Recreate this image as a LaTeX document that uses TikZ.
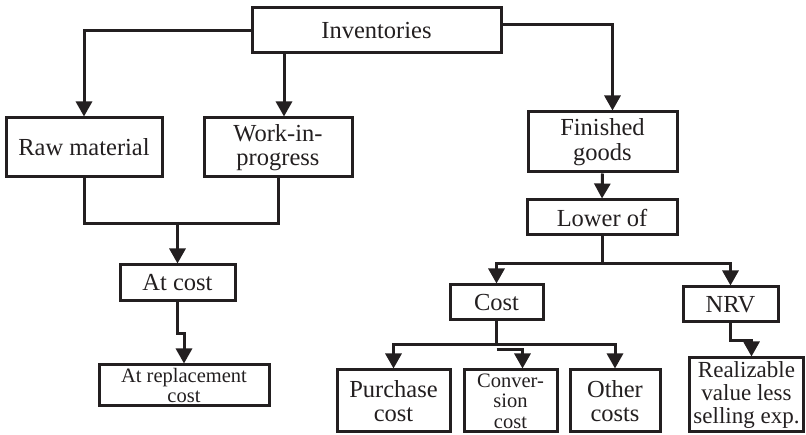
\documentclass[tikz,border=0pt]{standalone}
\usepackage{fontspec}
\setmainfont{Liberation Serif}
\usepackage{tikz}
\usetikzlibrary{arrows.meta}
\usetikzlibrary{calc,positioning}

\definecolor{ink}{HTML}{231F20}

\begin{document}
\begin{tikzpicture}[x=1pt,y=-1pt]
    \tikzstyle{box} = [draw=ink, line width=3pt, rectangle, inner sep=0pt, align=center,
                       text=ink, font=\fontsize{24.5}{24.5}\selectfont]
    \tikzstyle{smallbox} = [box, font=\fontsize{20.5}{20.5}\selectfont]
    \tikzstyle{wire} = [draw=ink, line width=3pt]
    \tikzstyle{arr} = [wire, -{Triangle[length=15pt,width=16pt]}]

    \useasboundingbox (0,0) rectangle (806,435);

    % Top level .........................
    \node[box, minimum width=249pt, minimum height=45pt] (inv) at (376.5,30.5) {Inventories};

    \node[box, minimum width=156pt, minimum height=59pt] (raw) at (84,147.5) {Raw material};
    \node[box, minimum width=148pt, minimum height=59pt] (wip) at (278,147.5) {Work-in-\\progress};
    \node[box, minimum width=149pt, minimum height=60pt] (fin) at (602.5,142) {Finished\\goods};

    % Raw material and work-in-progress .........................
    \node[box, minimum width=115pt, minimum height=36pt] (atc) at (177.5,283) {At cost};
    \node[smallbox, minimum width=170pt, minimum height=41pt] (rep) at (184,385.5) {At replacement\\cost};

    % Finished goods .........................
    \node[box, minimum width=150pt, minimum height=35pt] (low) at (602,217.5) {Lower of};
    \node[box, minimum width=93pt, minimum height=35pt] (cost) at (496.5,302.5) {Cost};
    \node[box, minimum width=95pt, minimum height=35pt] (nrv) at (730.5,304.5) {NRV};

    \node[box, minimum width=113pt, minimum height=62pt] (pur) at (393.5,401) {Purchase\\cost};
    \node[smallbox, minimum width=93pt, minimum height=62pt] (conv) at (510.5,401) {Conver-\\sion\\cost};
    \node[box, minimum width=90pt, minimum height=62pt] (oth) at (615,401) {Other\\costs};
    \node[box, minimum width=114pt, minimum height=74pt, font=\fontsize{23}{23}\selectfont]
        (real) at (746.5,395) {Realizable\\value less\\selling exp.};

    % Connectors .........................
    \draw[arr] (inv.west) -| (raw.north);
    \draw[arr] ([xshift=6pt]wip.north |- inv.south) -- ([xshift=6pt]wip.north);
    \draw[arr] ([yshift=6pt]inv.east) -| ([xshift=10pt]fin.north);

    \draw[wire] (raw.south) -- ++(0,45) -| (wip.south);
    \draw[arr] (atc.north |- 0,222) -- (atc.north);
    \draw[arr] (atc.south) -- ++(0,31) -| (rep.north);

    \draw[arr] (fin.south) -- (low.north);
    \draw[wire] (low.south) -- ++(0,27) coordinate (lowj);
    \draw[arr] (lowj) -| (cost.north);
    \draw[arr] (lowj) -| (nrv.north);

    \draw[wire] (cost.south) -- ++(0,23) coordinate (costj);
    \draw[arr] (costj) -| (pur.north);
    \draw[arr] (costj) -| (oth.north);
    \draw[arr] ([yshift=-5pt]costj) -| ([xshift=12pt]conv.north);

    \draw[arr] (nrv.south) -- ++(0,17) -| ([xshift=5pt]real.north);
\end{tikzpicture}
\end{document}
